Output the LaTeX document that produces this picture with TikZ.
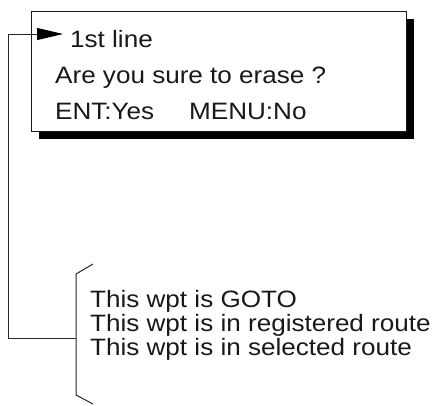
\documentclass[tikz,border=0pt]{standalone}
\usepackage{fontspec}
\setmainfont[FakeStretch=1.1]{Liberation Sans}
\usetikzlibrary{arrows.meta}
\begin{document}
\begin{tikzpicture}[x=1pt,y=-1pt,
  txt/.style={anchor=base west,inner sep=0pt,text=black!90,font=\fontsize{23.7}{25}\selectfont},
  ln/.style={line width=1pt,draw=black!85}]
\useasboundingbox (0,0) rectangle (439,405);
% shadow and box
\fill[black] (39,19) rectangle (414,139);
\node[draw=black!90,line width=1pt,fill=white,minimum width=375pt,minimum height=120pt,inner sep=0pt,anchor=north west] (box) at (31,11) {};
% box texts
\node[txt] (t1) at (70,47) {1st line};
\node[txt] (t2) at (55,83) {Are you sure to erase ?};
\node[txt] (t3) at (55,119) {ENT:Yes\hspace{35pt}MENU:No};
% lower texts
\node[txt] (l1) at (90,307) {This wpt is GOTO};
\node[txt] (l2) at (90,331) {This wpt is in registered route};
\node[txt] (l3) at (90,355) {This wpt is in selected route};
% bracket
\coordinate (bt) at (93,264);
\coordinate (bb) at (93,404);
\coordinate (bm) at (76,338);
\draw[ln] (bt) -- (76,274) -- (76,395) -- (bb);
% connector
\coordinate (tip) at ([xshift=-7pt]t1.west |- 0,34);
\draw[ln,-{Triangle[length=26pt,width=12pt,fill=black,color=black]}] (bm) -- (8,338) -- (8,34) -- (tip);
\end{tikzpicture}
\end{document}
